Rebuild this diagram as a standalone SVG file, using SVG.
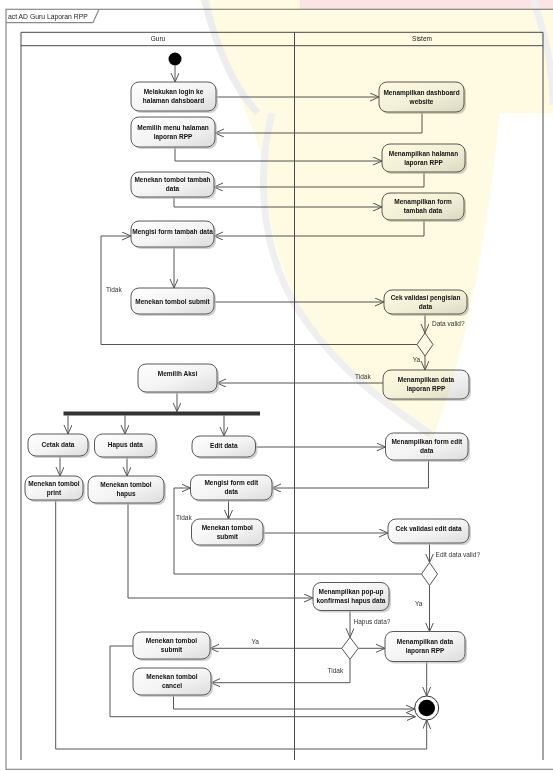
<svg xmlns="http://www.w3.org/2000/svg" width="553" height="771" viewBox="0 0 553 771">
<style>
.bg{fill:#ffffff}
.frame{fill:none;stroke:#8a8a8a;stroke-width:1.2}
.lane{fill:none;stroke:#4a4a4a;stroke-width:1}
.lt{font-family:"Liberation Sans",Arial,sans-serif;font-size:6.5px;fill:#222;text-anchor:middle}
.ft{font-family:"Liberation Sans",Arial,sans-serif;font-size:6.8px;fill:#222}
.box{fill:url(#g);stroke:#5a5a5a;stroke-width:1}
.sh{fill:#bdbdbd;opacity:0.7}
.n{font-family:"Liberation Sans",Arial,sans-serif;font-size:6.5px;font-weight:bold;fill:#111;text-anchor:middle}
.c{fill:none;stroke:#555;stroke-width:1}
.ca{fill:none;stroke:#555;stroke-width:1;marker-end:url(#ah)}
.el{font-family:"Liberation Sans",Arial,sans-serif;font-size:6.5px;fill:#333}
.dia{fill:#ffffff;stroke:#555;stroke-width:1}
.wm{mix-blend-mode:multiply}
</style>
<defs>
<linearGradient id="g" x1="0" y1="0" x2="1" y2="1">
<stop offset="0" stop-color="#ffffff"/>
<stop offset="0.55" stop-color="#f3f3f3"/>
<stop offset="1" stop-color="#dcdcdc"/>
</linearGradient>
<marker id="ah" markerUnits="userSpaceOnUse" markerWidth="11" markerHeight="10" refX="9" refY="4" orient="auto">
<path d="M0,0 L9,4 L0,8" fill="none" stroke="#555" stroke-width="1"/>
</marker>
</defs>
<rect class="bg" x="0" y="0" width="553" height="771"/>

<g id="frame">
<rect class="frame" x="6" y="9.3" width="560" height="760"/>
<path class="frame" d="M6,22.7 H93 L99,9.3"/>
<text class="ft" x="8" y="19">act AD Guru Laporan RPP</text>
</g>

<g id="lanes">
<path class="lane" d="M21,760 V32.3 H543 V760 M21,45.7 H543 M294.5,32.3 V760"/>
<text class="lt" x="158" y="41.3">Guru</text>
<text class="lt" x="422" y="41.3">Sistem</text>
</g>

<g id="connectors">
<path class="ca" d="M175,65.5 V82"/>
<path class="ca" d="M216,97 H379"/>
<path class="ca" d="M422,112 V133 H215"/>
<path class="ca" d="M175,147 V161 H382"/>
<path class="ca" d="M424,172 V187 H214"/>
<path class="ca" d="M174,197 V207 H382"/>
<path class="ca" d="M424,220 V236 H214"/>
<path class="ca" d="M174,247 V288"/>
<path class="ca" d="M214,302 H384"/>
<path class="ca" d="M425,314 V333"/>
<path class="ca" d="M417,344.5 H101 V236 H131"/>
<path class="ca" d="M425,356 V370"/>
<path class="ca" d="M383,383 H217"/>
<path class="ca" d="M177,392 V411.5"/>
<path class="ca" d="M68,415.5 V434"/>
<path class="ca" d="M125,415.5 V434"/>
<path class="ca" d="M224,415.5 V436"/>
<path class="ca" d="M60,456 V476"/>
<path class="ca" d="M127,457 V476"/>
<path class="ca" d="M255.5,447 H385.5"/>
<path class="ca" d="M428.5,460 V488 H272"/>
<path class="ca" d="M228.5,500 V519"/>
<path class="ca" d="M263,533 H388"/>
<path class="ca" d="M429.5,543 V562.5"/>
<path class="ca" d="M421.5,574 H174 V488 H190.5"/>
<path class="ca" d="M429.5,585.5 V631.5"/>
<path class="ca" d="M128,503 V598 H313"/>
<path class="ca" d="M350,610.5 V637.3"/>
<path class="ca" d="M358.3,648.3 H385"/>
<path class="ca" d="M341.7,648.3 H210"/>
<path class="ca" d="M350,659.3 V682.7 H211"/>
<path class="ca" d="M133,646 H110 V716.7 H415.5"/>
<path class="ca" d="M173.5,695 V709 H414.7"/>
<path class="ca" d="M426.7,661.5 V696"/>
<path class="ca" d="M55.7,500 V749 H426.7 V720"/>
<text class="el" x="106" y="291.5">Tidak</text>
<text class="el" x="432" y="325.8">Data valid?</text>
<text class="el" x="412.7" y="362.3">Ya</text>
<text class="el" x="355" y="379">Tidak</text>
<text class="el" x="176" y="519.5">Tidak</text>
<text class="el" x="435.6" y="556.5">Edit data valid?</text>
<text class="el" x="415" y="605.5">Ya</text>
<text class="el" x="353.5" y="623.5">Hapus data?</text>
<text class="el" x="251.5" y="643.5">Ya</text>
<text class="el" x="327.5" y="672.5">Tidak</text>
</g>

<g id="start"><circle cx="175" cy="59" r="6.5" fill="#000"/></g>

<g id="n-login"><rect class="sh" x="133" y="84" width="85" height="29" rx="8"/><rect class="box" x="131" y="82" width="85" height="29" rx="8"/><text class="n" x="173.5" y="94.3">Melakukan login ke</text><text class="n" x="173.5" y="103.3">halaman dahsboard</text></g>
<g id="n-dashboard"><rect class="sh" x="381" y="84" width="85" height="30" rx="8"/><rect class="box" x="379" y="82" width="85" height="30" rx="8"/><text class="n" x="421.5" y="94.8">Menampilkan dashboard</text><text class="n" x="421.5" y="103.8">website</text></g>
<g id="n-menu"><rect class="sh" x="133" y="119" width="84" height="30" rx="8"/><rect class="box" x="131" y="117" width="84" height="30" rx="8"/><text class="n" x="173" y="129.8">Memilih menu halaman</text><text class="n" x="173" y="138.8">laporan RPP</text></g>
<g id="n-halaman"><rect class="sh" x="384" y="146" width="83" height="28" rx="8"/><rect class="box" x="382" y="144" width="83" height="28" rx="8"/><text class="n" x="423.5" y="155.8">Menampilkan halaman</text><text class="n" x="423.5" y="164.8">laporan RPP</text></g>
<g id="n-tambah"><rect class="sh" x="133" y="174" width="83" height="25" rx="8"/><rect class="box" x="131" y="172" width="83" height="25" rx="8"/><text class="n" x="172.5" y="182.3">Menekan tombol tambah</text><text class="n" x="172.5" y="191.3">data</text></g>
<g id="n-formtambah"><rect class="sh" x="384" y="195" width="82" height="27" rx="8"/><rect class="box" x="382" y="193" width="82" height="27" rx="8"/><text class="n" x="423" y="204.3">Menampilkan form</text><text class="n" x="423" y="213.3">tambah data</text></g>
<g id="n-mengisi"><rect class="sh" x="133" y="223" width="83" height="26" rx="8"/><rect class="box" x="131" y="221" width="83" height="26" rx="8"/><text class="n" x="172.5" y="234">Mengisi form tambah data</text></g>
<g id="n-submit1"><rect class="sh" x="133" y="290" width="83" height="26" rx="8"/><rect class="box" x="131" y="288" width="83" height="26" rx="8"/><text class="n" x="172.5" y="304">Menekan tombol submit</text></g>
<g id="n-cek1"><rect class="sh" x="386" y="292" width="83" height="24" rx="8"/><rect class="box" x="384" y="290" width="83" height="24" rx="8"/><text class="n" x="425.5" y="299.8">Cek validasi pengisian</text><text class="n" x="425.5" y="308.8">data</text></g>
<g id="d1"><path class="dia" d="M425,333 L433,344.5 L425,356 L417,344.5 Z"/></g>
<g id="n-data1"><rect class="sh" x="385" y="372" width="86" height="29" rx="8"/><rect class="box" x="383" y="370" width="86" height="29" rx="8"/><text class="n" x="426" y="382.3">Menampilkan data</text><text class="n" x="426" y="391.3">laporan RPP</text></g>
<g id="n-aksi"><rect class="sh" x="140" y="366" width="79" height="28" rx="8"/><rect class="box" x="138" y="364" width="79" height="28" rx="8"/><text class="n" x="177.5" y="375.5">Memilih Aksi</text></g>
<g id="fork"><rect x="63.5" y="411.5" width="196.5" height="4" fill="#333"/></g>
<g id="n-cetak"><rect class="sh" x="30" y="436" width="60" height="22" rx="8"/><rect class="box" x="28" y="434" width="60" height="22" rx="8"/><text class="n" x="58" y="446.5">Cetak data</text></g>
<g id="n-hapusdata"><rect class="sh" x="96.5" y="436" width="61.5" height="23" rx="8"/><rect class="box" x="94.5" y="434" width="61.5" height="23" rx="8"/><text class="n" x="125.3" y="446.5">Hapus data</text></g>
<g id="n-edit"><rect class="sh" x="194" y="438" width="63.5" height="21" rx="8"/><rect class="box" x="192" y="436" width="63.5" height="21" rx="8"/><text class="n" x="223.8" y="448">Edit data</text></g>
<g id="n-formedit"><rect class="sh" x="387.5" y="435" width="82.5" height="27" rx="8"/><rect class="box" x="385.5" y="433" width="82.5" height="27" rx="8"/><text class="n" x="426.8" y="444.3">Menampilkan form edit</text><text class="n" x="426.8" y="453.3">data</text></g>
<g id="n-print"><rect class="sh" x="27" y="478" width="58" height="24" rx="8"/><rect class="box" x="25" y="476" width="58" height="24" rx="8"/><text class="n" x="54" y="485.8">Menekan tombol</text><text class="n" x="54" y="494.8">print</text></g>
<g id="n-hapus"><rect class="sh" x="90" y="478" width="76" height="27" rx="8"/><rect class="box" x="88" y="476" width="76" height="27" rx="8"/><text class="n" x="126" y="487.3">Menekan tombol</text><text class="n" x="126" y="496.3">hapus</text></g>
<g id="n-mengisiedit"><rect class="sh" x="192.5" y="477" width="81.5" height="25" rx="8"/><rect class="box" x="190.5" y="475" width="81.5" height="25" rx="8"/><text class="n" x="231.3" y="485.3">Mengisi form edit</text><text class="n" x="231.3" y="494.3">data</text></g>
<g id="n-submitedit"><rect class="sh" x="193.5" y="521" width="71.5" height="26" rx="8"/><rect class="box" x="191.5" y="519" width="71.5" height="26" rx="8"/><text class="n" x="227.3" y="529.8">Menekan tombol</text><text class="n" x="227.3" y="538.8">submit</text></g>
<g id="n-cekedit"><rect class="sh" x="390" y="521" width="81" height="24" rx="8"/><rect class="box" x="388" y="519" width="81" height="24" rx="8"/><text class="n" x="428.5" y="530.5">Cek validasi edit data</text></g>
<g id="d2"><path class="dia" d="M429.5,562.5 L437.5,574 L429.5,585.5 L421.5,574 Z"/></g>
<g id="n-popup"><rect class="sh" x="315" y="584.5" width="76" height="28" rx="8"/><rect class="box" x="313" y="582.5" width="76" height="28" rx="8"/><text class="n" x="351" y="594.3">Menampilkan pop-up</text><text class="n" x="351" y="603.3">konfirmasi hapus data</text></g>
<g id="d3"><path class="dia" d="M350,637.3 L358.3,648.3 L350,659.3 L341.7,648.3 Z"/></g>
<g id="n-data2"><rect class="sh" x="387" y="633.5" width="80" height="30" rx="8"/><rect class="box" x="385" y="631.5" width="80" height="30" rx="8"/><text class="n" x="425" y="644.3">Menampilkan data</text><text class="n" x="425" y="653.3">laporan RPP</text></g>
<g id="n-submit3"><rect class="sh" x="135" y="634" width="77" height="27" rx="8"/><rect class="box" x="133" y="632" width="77" height="27" rx="8"/><text class="n" x="171.5" y="643.3">Menekan tombol</text><text class="n" x="171.5" y="652.3">submit</text></g>
<g id="n-cancel"><rect class="sh" x="135" y="670" width="78" height="27" rx="8"/><rect class="box" x="133" y="668" width="78" height="27" rx="8"/><text class="n" x="172" y="679.3">Menekan tombol</text><text class="n" x="172" y="688.3">cancel</text></g>
<g id="end"><circle cx="426.7" cy="708" r="12" fill="#fff" stroke="#333" stroke-width="1"/><circle cx="426.7" cy="708" r="8.3" fill="#000"/></g>

<g id="watermark" class="wm">
<path d="M200,0 L553,0 L553,113 L500,113 C490,200 475,330 432,440 C400,420 350,380 318,335 C290,295 270,250 266,180 C262,140 235,90 200,0 Z" fill="#fefbe2"/>
<path d="M300,0 L553,0 L553,9 L300,9 Z" fill="#fae4e4"/>
<path d="M205,0 C215,45 235,90 258,113" fill="none" stroke="#ededed" stroke-width="7"/>
<path d="M272,113 C255,180 262,260 305,320 C340,370 380,400 430,434" fill="none" stroke="#efefef" stroke-width="7"/>
<path d="M533,0 C546,35 553,70 553,105" fill="none" stroke="#efefef" stroke-width="7"/>
</g>
</svg>
